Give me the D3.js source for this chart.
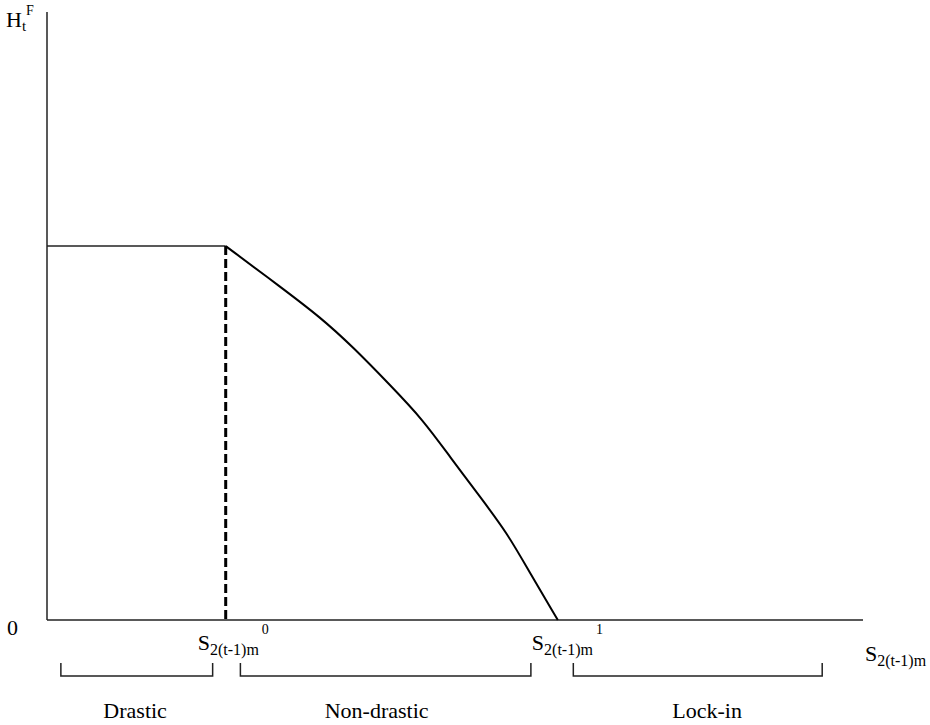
<!DOCTYPE html>
<html>
<head>
<meta charset="utf-8">
<script src="https://cdn.jsdelivr.net/npm/d3@7"></script>
<style>
  body { margin: 0; background: #fff; }
  svg text { font-family: "Liberation Serif", "Times New Roman", "DejaVu Serif", serif; }
</style>
</head>
<body>
<div id="chart"></div>
<script>
// threshold points on the S axis
var s0 = 2.19;
var s1 = 6.26;
var hLevel = 6.15;

// non-drastic segment of H_t^F
var curveX = [2.19, 2.86, 3.35, 3.75, 4.20, 4.61, 4.94, 5.31, 5.64, 5.92, 6.26];
var curveY = [6.15, 5.48, 4.98, 4.49, 3.87, 3.29, 2.68, 2.02, 1.43, 0.77, 0];

// regime brackets under the axis
var regimes = ["Drastic", "Non-drastic", "Lock-in"];
var regimeStart = [0.17, 2.37, 6.45];
var regimeEnd = [2.03, 5.93, 9.50];
var regimeLabelX = [1.08, 4.04, 8.09];

var w = 930, h = 725;

var svg = d3.select("#chart")
    .append("svg")
    .attr("width", w)
    .attr("height", h);

var x = d3.scaleLinear().domain([0, 10]).range([47, 863]);
var y = d3.scaleLinear().domain([0, 10]).range([620, 12]);

// axes (plain lines, no ticks)
svg.append("line")
    .attr("x1", x(0)).attr("x2", x(0))
    .attr("y1", y(10)).attr("y2", y(0))
    .attr("stroke", "#222").attr("stroke-width", 1.5);

svg.append("line")
    .attr("x1", x(0)).attr("x2", x(10))
    .attr("y1", y(0)).attr("y2", y(0))
    .attr("stroke", "#222").attr("stroke-width", 1.5);

// flat part
svg.append("line")
    .attr("x1", x(0)).attr("x2", x(s0))
    .attr("y1", y(hLevel)).attr("y2", y(hLevel))
    .attr("stroke", "#222").attr("stroke-width", 1.5);

// dashed drop line
svg.append("line")
    .attr("x1", x(s0)).attr("x2", x(s0))
    .attr("y1", y(hLevel)).attr("y2", y(0))
    .attr("stroke", "#000").attr("stroke-width", 3)
    .attr("stroke-dasharray", "9,4");

var pts = curveX.map(function(d, i) { return [d, curveY[i]]; });

var line = d3.line()
    .x(function(d) { return x(d[0]); })
    .y(function(d) { return y(d[1]); })
    .curve(d3.curveBasis);

svg.append("path")
    .datum(pts)
    .attr("d", line)
    .attr("fill", "none")
    .attr("stroke", "#000")
    .attr("stroke-width", 2);

// brackets
var bTop = 663, bBot = 676;
regimes.forEach(function(r, i) {
    var a = x(regimeStart[i]), b = x(regimeEnd[i]);
    svg.append("path")
        .attr("d", "M" + a + "," + bTop + "V" + bBot + "H" + b + "V" + bTop)
        .attr("fill", "none")
        .attr("stroke", "#222")
        .attr("stroke-width", 1.5);
    svg.append("text")
        .attr("x", x(regimeLabelX[i]))
        .attr("y", 718)
        .attr("text-anchor", "middle")
        .attr("font-size", 22)
        .text(r);
});

// S labels with sub/superscripts
function sLabel(px, py, sup) {
    var t = svg.append("text")
        .attr("x", px).attr("y", py)
        .attr("font-size", 22);
    t.append("tspan").text("S");
    t.append("tspan").attr("font-size", 16).attr("dy", 5).text("2(t-1)m");
    if (sup != null) {
        t.append("tspan").attr("font-size", 14).attr("dx", 3).attr("dy", -21).text(sup);
    }
}
sLabel(x(s0) - 28, 650, "0");
sLabel(x(s1) - 26, 650, "1");
sLabel(x(10) + 2, 661, null);

// zero label
svg.append("text")
    .attr("x", 7).attr("y", 635)
    .attr("font-size", 22)
    .text("0");

// H_t^F label
var ht = svg.append("text").attr("x", 6).attr("y", 27)
    .attr("font-size", 22);
ht.append("tspan").text("H");
ht.append("tspan").attr("font-size", 15).attr("dy", 4).text("t");
ht.append("tspan").attr("font-size", 14).attr("dy", -16).text("F");
</script>
</body>
</html>
